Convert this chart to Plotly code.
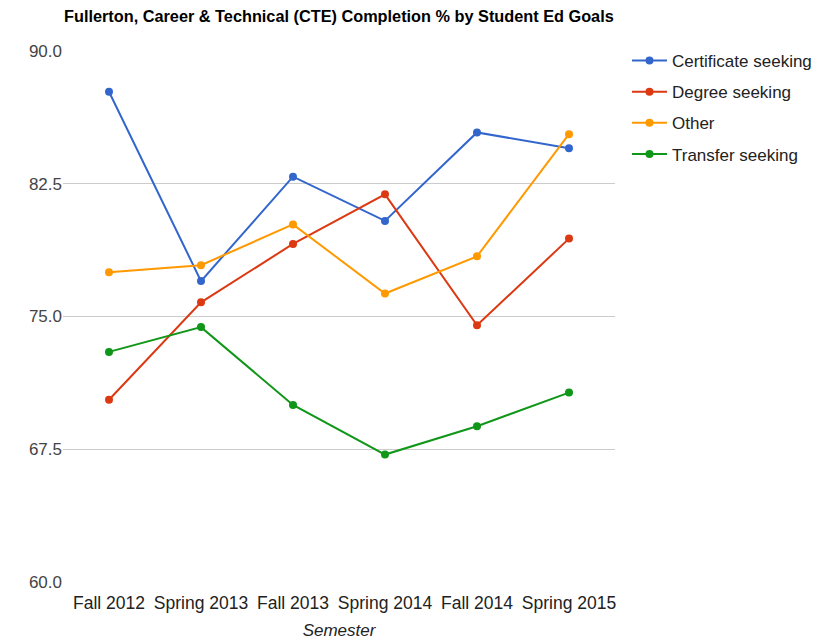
import plotly.graph_objects as go

semesters = ["Fall 2012", "Spring 2013", "Fall 2013", "Spring 2014", "Fall 2014", "Spring 2015"]
certificate_seeking = [87.7, 77.0, 82.9, 80.4, 85.4, 84.5]
degree_seeking = [70.3, 75.8, 79.1, 81.9, 74.5, 79.4]
other = [77.5, 77.9, 80.2, 76.3, 78.4, 85.3]
transfer_seeking = [73.0, 74.4, 70.0, 67.2, 68.8, 70.7]
y_ticks = [60.0, 67.5, 75.0, 82.5, 90.0]

series = [
    ("Certificate seeking", certificate_seeking, "#3366cc"),
    ("Degree seeking", degree_seeking, "#dc3912"),
    ("Other", other, "#ff9900"),
    ("Transfer seeking", transfer_seeking, "#109618"),
]

fig = go.Figure()
for name, vals, color in series:
    fig.add_trace(go.Scatter(
        x=semesters, y=vals, name=name, mode="lines+markers",
        line=dict(color=color, width=2),
        marker=dict(color=color, size=8),
        legendgroup=name,
    ))

fig.update_layout(
    width=819, height=643,
    margin=dict(l=63, r=204, t=51, b=61, autoexpand=False),
    plot_bgcolor="white", paper_bgcolor="white",
    font=dict(family="Liberation Sans, Arial, sans-serif", size=17, color="#222222"),
    title=dict(
        text="<b>Fullerton, Career &amp; Technical (CTE) Completion % by Student Ed Goals</b>",
        x=64 / 819, xanchor="left", y=1 - 16 / 643, yanchor="middle",
        font=dict(size=16.3, color="#000000"),
    ),
    showlegend=True,
    legend=dict(
        x=1.0217, xanchor="left",
        y=1.015, yanchor="top",
        font=dict(size=17, color="#222222"),
        tracegroupgap=6,
        itemwidth=35,
    ),
    xaxis=dict(
        type="category", range=[-0.5, 5.5], automargin=False,
        showgrid=False, zeroline=False, showline=False,
        ticks="", tickfont=dict(size=17.5, color="#222222"),
        ticklabelstandoff=8,
        title=dict(text="<i>Semester</i>", font=dict(size=17, color="#222222"), standoff=12),
    ),
    yaxis=dict(
        range=[60, 90], tickvals=y_ticks, automargin=False,
        ticktext=[f"{v:.1f}" for v in y_ticks],
        showgrid=True, gridcolor="#cccccc", gridwidth=1,
        zeroline=False, showline=False, ticks="",
        tickfont=dict(size=17, color="#444444"),
    ),
)

fig.write_html("out.html")
